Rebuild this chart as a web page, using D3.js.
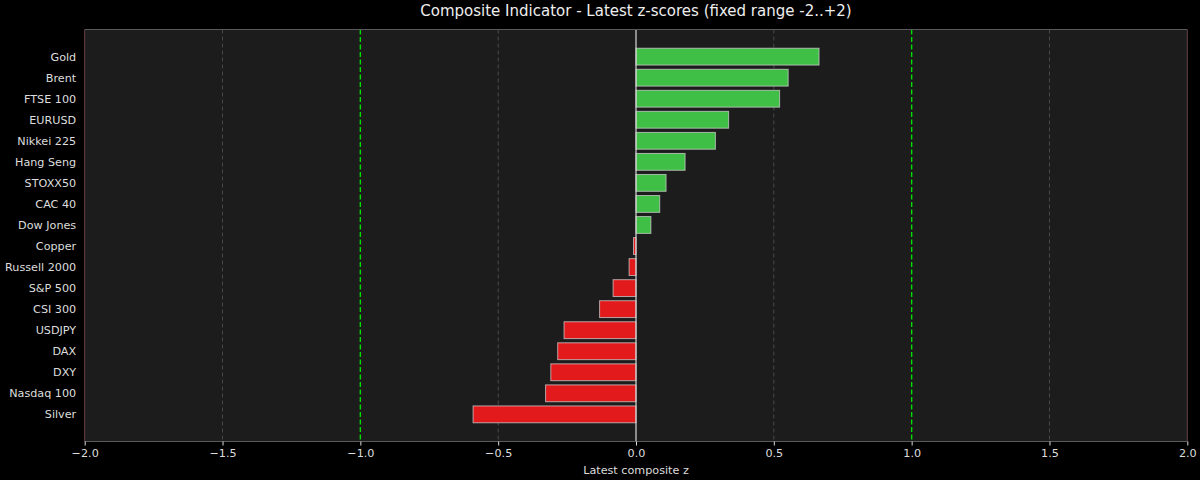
<!DOCTYPE html>
<html><head><meta charset="utf-8">
<script src="https://cdn.jsdelivr.net/npm/d3@7"></script>
<style>html,body{margin:0;padding:0;background:#000;}svg{display:block;font-family:"DejaVu Sans",sans-serif;}</style>
</head><body>
<svg id="chart" width="1200" height="480"></svg>
<script>
const categories = ["Gold","Brent","FTSE 100","EURUSD","Nikkei 225","Hang Seng","STOXX50","CAC 40","Dow Jones","Copper","Russell 2000","S&P 500","CSI 300","USDJPY","DAX","DXY","Nasdaq 100","Silver"];
const values = [0.664,0.552,0.521,0.336,0.288,0.178,0.109,0.086,0.054,-0.009,-0.025,-0.083,-0.132,-0.261,-0.284,-0.309,-0.328,-0.591];
const xTicks = [-2.0,-1.5,-1.0,-0.5,0.0,0.5,1.0,1.5,2.0];
const gridTicks = [-1.5,-0.5,0.5,1.5];
const thresholds = [-1,1];
const title = "Composite Indicator - Latest z-scores (fixed range -2..+2)";
const xLabel = "Latest composite z";

const svg = d3.select("#chart");
const L = 84.7, R = 1187.3, T = 29.5, B = 441.5;
const FS = "11.2px";
const x = d3.scaleLinear().domain([-2,2]).range([L,R]);
const y = d3.scaleLinear().domain([-1.29, categories.length - 1 + 1.29]).range([T,B]);
const bh = (y(0.4) - y(-0.4));

svg.append("rect").attr("x",0).attr("y",0).attr("width",1200).attr("height",480).attr("fill","#000");
svg.append("rect").attr("x",L).attr("y",T).attr("width",R-L).attr("height",B-T).attr("fill","#1c1c1c");

// grid
svg.append("g").selectAll("line").data(gridTicks).join("line")
  .attr("x1",d=>x(d)).attr("x2",d=>x(d)).attr("y1",T).attr("y2",B)
  .attr("stroke","#4a4a4a").attr("stroke-width",1).attr("stroke-dasharray","4,3");

// thresholds
svg.append("g").selectAll("line").data(thresholds).join("line")
  .attr("x1",d=>x(d)).attr("x2",d=>x(d)).attr("y1",T).attr("y2",B)
  .attr("stroke","#00dd00").attr("stroke-width",1.4).attr("stroke-dasharray","5,2.5");

// bars
svg.append("g").selectAll("rect").data(values).join("rect")
  .attr("x",d=>x(Math.min(0,d))).attr("width",d=>Math.abs(x(d)-x(0)))
  .attr("y",(d,i)=>y(i)-bh/2).attr("height",bh)
  .attr("fill",d=>d>=0?"#3fbf45":"#e31a1c")
  .attr("stroke","#cfcfcf").attr("stroke-opacity",0.75).attr("stroke-width",1);

// zero line
svg.append("line").attr("x1",x(0)).attr("x2",x(0)).attr("y1",T).attr("y2",B)
  .attr("stroke","#d8d8d8").attr("stroke-width",1.2);

// spines
svg.append("line").attr("x1",L).attr("x2",R).attr("y1",T).attr("y2",T).attr("stroke","#5a5a5a").attr("stroke-width",1);
svg.append("line").attr("x1",L).attr("x2",R).attr("y1",B).attr("y2",B).attr("stroke","#5a5a5a").attr("stroke-width",1.2);
svg.append("line").attr("x1",L).attr("x2",L).attr("y1",T).attr("y2",B).attr("stroke","#6a4444").attr("stroke-width",1);
svg.append("line").attr("x1",R).attr("x2",R).attr("y1",T).attr("y2",B).attr("stroke","#6a4444").attr("stroke-width",1);

// x axis
const xAxis = d3.axisBottom(x).tickValues(xTicks).tickSize(4).tickPadding(4)
  .tickFormat(d=>d3.format(".1f")(d).replace("-","\u2212"));
const gx = svg.append("g").attr("transform",`translate(0,${B})`).call(xAxis);
gx.select(".domain").remove();
gx.selectAll("line").attr("stroke","#dddddd");
gx.selectAll("text").attr("fill","#dddddd").attr("font-size",FS).attr("font-family","DejaVu Sans");

// y axis
const gy = svg.append("g").attr("transform",`translate(${L},0)`)
  .call(d3.axisLeft(y).tickValues(d3.range(categories.length)).tickSize(0).tickPadding(8.5).tickFormat(i=>categories[i]));
gy.select(".domain").remove();
gy.selectAll("text").attr("fill","#dddddd").attr("font-size",FS).attr("font-family","DejaVu Sans");

svg.append("text").attr("x",(L+R)/2).attr("y",16).attr("text-anchor","middle")
  .attr("fill","#eeeeee").attr("font-size","15px").text(title);
svg.append("text").attr("x",(L+R)/2).attr("y",474).attr("text-anchor","middle")
  .attr("fill","#dddddd").attr("font-size",FS).text(xLabel);
</script>
</body></html>
